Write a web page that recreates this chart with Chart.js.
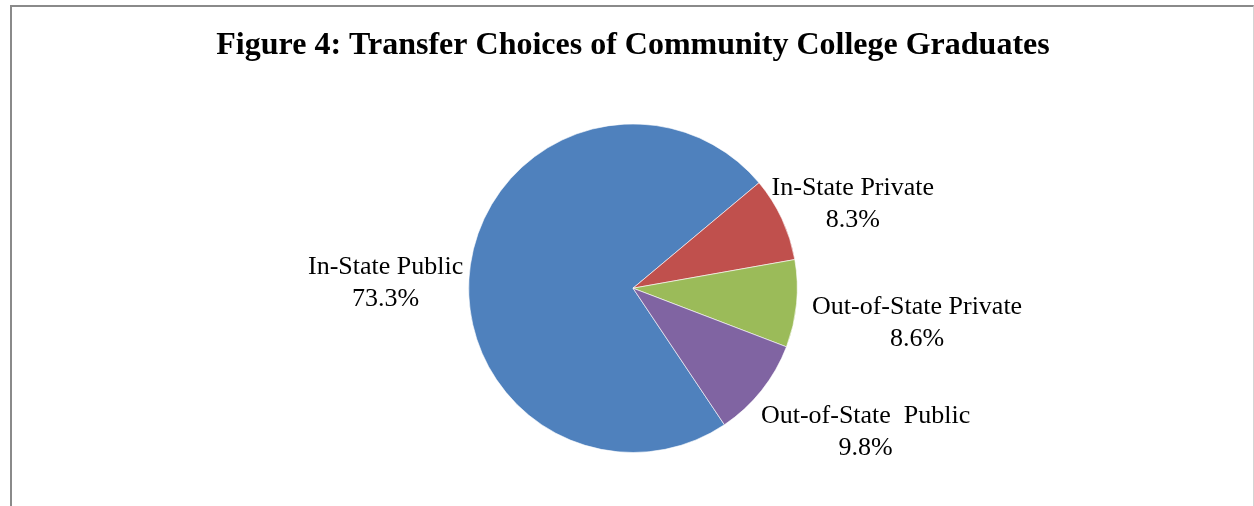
<!DOCTYPE html>
<html>
<head>
<meta charset="utf-8">
<script src="https://cdn.jsdelivr.net/npm/chart.js@4/dist/chart.umd.min.js"></script>
<style>
  html, body { margin: 0; padding: 0; background: #fff; }
  body { width: 1254px; height: 506px; position: relative; overflow: hidden; }
  #frame {
    position: absolute; left: 10px; top: 5px; width: 1241px; height: 520px;
    border-top: 2px solid #8a8a8a; border-left: 2px solid #8a8a8a; border-right: 1px solid #d4d4d4;
  }
  #wrap { position: absolute; left: 12px; top: 0; width: 1242px; height: 506px; }
</style>
</head>
<body>
<div id="frame"></div>
<div id="wrap"><canvas id="transferChart" width="1242" height="506"></canvas></div>
<script>
const categorias = ['In-State Public', 'In-State Private', 'Out-of-State Private', 'Out-of-State  Public'];
const porcentajes = [73.3, 8.3, 8.6, 9.8];
const colores = ['#4F81BD', '#C0504D', '#9BBB59', '#8064A2'];

const serif = "'Liberation Serif', 'Times New Roman', serif";

// etiquetas fuera de cada porción: nombre y porcentaje en dos líneas
const etiquetasFuera = {
  id: 'etiquetasFuera',
  afterDatasetsDraw(chart, args, opts) {
    const ctx = chart.ctx;
    const meta = chart.getDatasetMeta(0);
    const fontSize = 26, lineH = 32, gap = 8;
    const ajustes = opts.ajustes || [];
    ctx.save();
    ctx.font = fontSize + 'px ' + serif;
    ctx.fillStyle = '#000';
    ctx.textAlign = 'center';
    ctx.textBaseline = 'middle';
    meta.data.forEach((arc, i) => {
      const mid = (arc.startAngle + arc.endAngle) / 2;
      const dx = Math.cos(mid), dy = Math.sin(mid);
      const lines = [categorias[i], porcentajes[i].toFixed(1) + '%'];
      const w = Math.max(...lines.map(t => ctx.measureText(t).width));
      const h = lines.length * lineH;
      const ax = arc.x + dx * (arc.outerRadius + gap);
      const ay = arc.y + dy * (arc.outerRadius + gap);
      const [ox, oy] = ajustes[i] || [0, 0];
      const cx = ax + dx * w / 2 + ox;
      const cy = ay + dy * h / 2 + 8 + oy;
      lines.forEach((t, j) => {
        ctx.fillText(t, cx, cy - h / 2 + lineH * (j + 0.5));
      });
    });
    ctx.restore();
  }
};

const grafica = new Chart('transferChart', {
  type: 'pie',
  data: {
    labels: categorias,
    datasets: [{
      data: porcentajes,
      backgroundColor: colores,
      borderColor: 'rgba(255,255,255,0.6)',
      borderWidth: 1
    }]
  },
  options: {
    responsive: false,
    animation: false,
    rotation: 146.2,
    layout: { padding: { bottom: 53 } },
    plugins: {
      legend: { display: false },
      tooltip: { enabled: false },
      title: {
        display: true,
        text: 'Figure 4: Transfer Choices of Community College Graduates',
        color: '#000',
        font: { family: serif, size: 32, weight: 'bold', lineHeight: 1.2 },
        padding: { top: 27, bottom: 58 }
      },
      // pequeños desplazamientos para que las etiquetas no pisen el pastel
      etiquetasFuera: {
        ajustes: [[0, 16], [-10, -6], [8, 8], [16, 9]]
      }
    }
  },
  plugins: [etiquetasFuera]
});
</script>
</body>
</html>
